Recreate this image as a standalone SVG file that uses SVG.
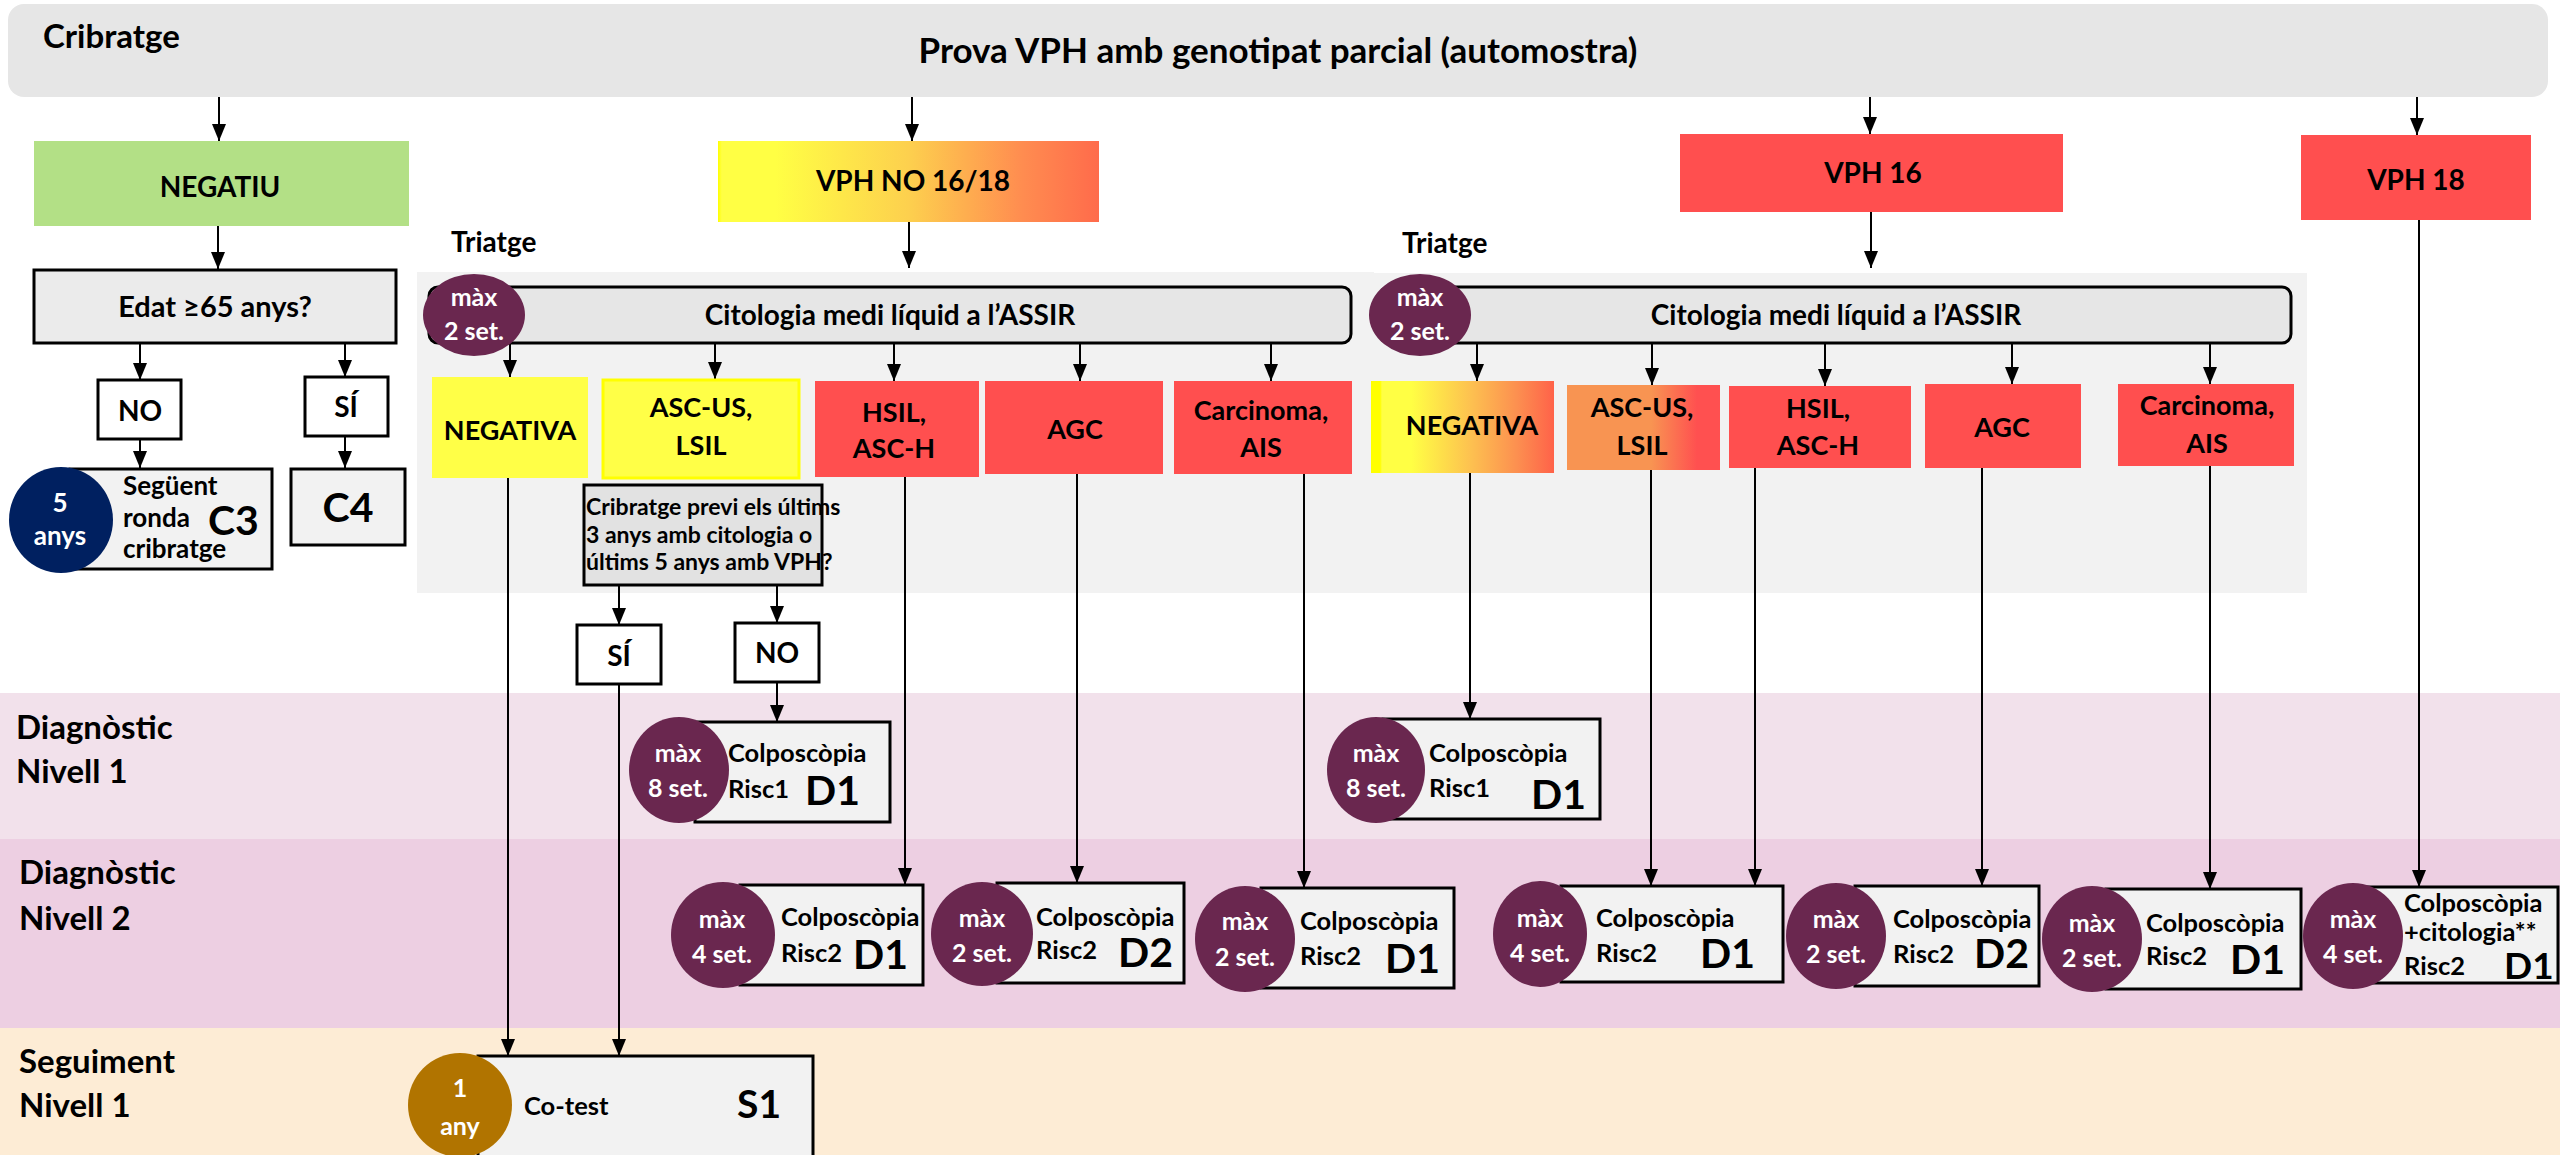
<svg xmlns="http://www.w3.org/2000/svg" width="2560" height="1155" viewBox="0 0 2560 1155">
  <defs>
    <style>
      text { font-family: Lato, "Liberation Sans", sans-serif; font-weight: bold; fill: #000; }
      .c { text-anchor: middle; }
      .w { fill: #fff; }
      .t-title { font-size: 35px; }
      .t-head { font-size: 33px; }
      .t-lane { font-size: 33px; }
      .t-triage { font-size: 28px; }
      .t-top { font-size: 28px; }
      .t-cat { font-size: 27px; }
      .t-cito { font-size: 28px; }
      .t-q { font-size: 23px; }
      .t-big { font-size: 41px; }
      .t-code { font-size: 41px; }
      .t-box { font-size: 25.5px; }
      .t-badge { font-size: 25px; }
      .t-small { font-size: 26px; }
      .frame { stroke: #000; stroke-width: 3; }
      .light { fill: #f2f2f2; }
      .red { fill: #ff4f4f; }
      .yellow { fill: #ffff47; }
      .badge { fill: #6a274f; }
      .conn line { stroke: #000; stroke-width: 2; fill: none; }
      .conn .arrow { marker-end: url(#head); }
    </style>
    <marker id="head" markerUnits="userSpaceOnUse" markerWidth="17" markerHeight="14" refX="17" refY="7" orient="auto">
      <path d="M0,0 L17,7 L0,14 Z" fill="#000"/>
    </marker>
    <linearGradient id="gradNo" x1="0" y1="0" x2="1" y2="0">
      <stop offset="0" stop-color="#ffff00"/>
      <stop offset="0.01" stop-color="#ffff44"/>
      <stop offset="0.15" stop-color="#ffff44"/>
      <stop offset="0.5" stop-color="#fdd04e"/>
      <stop offset="0.8" stop-color="#ff8c50"/>
      <stop offset="1" stop-color="#ff6b4b"/>
    </linearGradient>
    <linearGradient id="gradNeg" x1="0" y1="0" x2="1" y2="0">
      <stop offset="0" stop-color="#ffff00"/>
      <stop offset="0.05" stop-color="#ffff00"/>
      <stop offset="0.06" stop-color="#ffff44"/>
      <stop offset="0.22" stop-color="#ffff44"/>
      <stop offset="0.55" stop-color="#fdc050"/>
      <stop offset="0.8" stop-color="#fc8f50"/>
      <stop offset="1" stop-color="#ff6249"/>
    </linearGradient>
    <linearGradient id="gradAsc" x1="0" y1="0" x2="1" y2="0">
      <stop offset="0" stop-color="#f89452"/>
      <stop offset="0.55" stop-color="#f89452"/>
      <stop offset="0.85" stop-color="#ff5050"/>
      <stop offset="1" stop-color="#ff5050"/>
    </linearGradient>
  </defs>

  <!-- swimlanes -->
  <g id="lanes">
    <rect x="0" y="693" width="2560" height="146" fill="#f2e1eb"/>
    <rect x="0" y="839" width="2560" height="189" fill="#edcfe2"/>
    <rect x="0" y="1028" width="2560" height="127" fill="#fdecd5"/>
    <text class="t-lane" x="16" y="739">Diagnòstic</text>
    <text class="t-lane" x="16" y="783">Nivell 1</text>
    <text class="t-lane" x="19" y="884">Diagnòstic</text>
    <text class="t-lane" x="19" y="930">Nivell 2</text>
    <text class="t-lane" x="19" y="1073">Seguiment</text>
    <text class="t-lane" x="19" y="1117">Nivell 1</text>
  </g>

  <!-- triage panels -->
  <g id="triage-panels">
    <rect x="417" y="272" width="957" height="321" fill="#f2f2f2"/>
    <rect x="1374" y="273" width="933" height="320" fill="#f2f2f2"/>
    <text class="t-triage" x="451" y="252">Triatge</text>
    <text class="t-triage" x="1402" y="253">Triatge</text>
  </g>

  <!-- screening banner -->
  <g id="banner">
    <rect x="8" y="4" width="2540" height="93" rx="16" fill="#e6e6e6"/>
    <text class="t-head" x="43" y="48">Cribratge</text>
    <text class="t-title c" x="1278" y="63">Prova VPH amb genotipat parcial (automostra)</text>
  </g>

  <!-- connectors -->
  <g id="connectors" class="conn">
    <line class="arrow" x1="219" y1="97" x2="219" y2="141"/>
    <line class="arrow" x1="912" y1="97" x2="912" y2="141"/>
    <line class="arrow" x1="1870" y1="97" x2="1870" y2="134"/>
    <line class="arrow" x1="2417" y1="97" x2="2417" y2="135"/>

    <line class="arrow" x1="218" y1="226" x2="218" y2="269"/>
    <line class="arrow" x1="140" y1="343" x2="140" y2="380"/>
    <line class="arrow" x1="345" y1="343" x2="345" y2="377"/>
    <line class="arrow" x1="140" y1="439" x2="140" y2="468"/>
    <line class="arrow" x1="345" y1="436" x2="345" y2="468"/>

    <line class="arrow" x1="909" y1="222" x2="909" y2="268"/>
    <line class="arrow" x1="1871" y1="212" x2="1871" y2="268"/>

    <line class="arrow" x1="510" y1="343" x2="510" y2="377"/>
    <line class="arrow" x1="715" y1="343" x2="715" y2="379"/>
    <line class="arrow" x1="894" y1="343" x2="894" y2="381"/>
    <line class="arrow" x1="1080" y1="343" x2="1080" y2="381"/>
    <line class="arrow" x1="1271" y1="343" x2="1271" y2="381"/>

    <line class="arrow" x1="1477" y1="343" x2="1477" y2="381"/>
    <line class="arrow" x1="1652" y1="343" x2="1652" y2="385"/>
    <line class="arrow" x1="1825" y1="343" x2="1825" y2="386"/>
    <line class="arrow" x1="2012" y1="343" x2="2012" y2="384"/>
    <line class="arrow" x1="2210" y1="343" x2="2210" y2="384"/>

    <line class="arrow" x1="508" y1="478" x2="508" y2="1056"/>
    <line class="arrow" x1="619" y1="585" x2="619" y2="625"/>
    <line class="arrow" x1="777" y1="585" x2="777" y2="623"/>
    <line class="arrow" x1="619" y1="684" x2="619" y2="1056"/>
    <line class="arrow" x1="777" y1="682" x2="777" y2="722"/>
    <line class="arrow" x1="905" y1="477" x2="905" y2="885"/>
    <line class="arrow" x1="1077" y1="474" x2="1077" y2="883"/>
    <line class="arrow" x1="1304" y1="474" x2="1304" y2="888"/>

    <line class="arrow" x1="1470" y1="473" x2="1470" y2="719"/>
    <line class="arrow" x1="1651" y1="470" x2="1651" y2="886"/>
    <line class="arrow" x1="1755" y1="468" x2="1755" y2="886"/>
    <line class="arrow" x1="1982" y1="468" x2="1982" y2="886"/>
    <line class="arrow" x1="2210" y1="466" x2="2210" y2="889"/>
    <line class="arrow" x1="2419" y1="220" x2="2419" y2="887"/>
  </g>

  <!-- screening results -->
  <g id="n-negatiu">
    <rect x="34" y="141" width="375" height="85" fill="#b3e086"/>
    <text class="t-top c" x="220" y="197">NEGATIU</text>
  </g>
  <g id="n-vph-no">
    <rect x="718" y="141" width="381" height="81" fill="url(#gradNo)"/>
    <text class="t-top c" x="913" y="191">VPH NO 16/18</text>
  </g>
  <g id="n-vph16">
    <rect x="1680" y="134" width="383" height="78" class="red"/>
    <text class="t-top c" x="1873" y="183">VPH 16</text>
  </g>
  <g id="n-vph18">
    <rect x="2301" y="135" width="230" height="85" class="red"/>
    <text class="t-top c" x="2416" y="190">VPH 18</text>
  </g>

  <!-- age branch -->
  <g id="n-edat">
    <rect x="34" y="270" width="362" height="73" fill="#ebebeb" class="frame"/>
    <text class="t-top c" x="215" y="317" style="font-size:29px">Edat ≥65 anys?</text>
  </g>
  <g id="n-edat-no">
    <rect x="98" y="380" width="83" height="59" fill="#fff" class="frame"/>
    <text class="t-top c" x="140" y="421">NO</text>
  </g>
  <g id="n-edat-si">
    <rect x="305" y="377" width="83" height="59" fill="#fff" class="frame"/>
    <text class="t-top c" x="346" y="417">SÍ</text>
  </g>
  <g id="n-c3">
    <rect x="70" y="469" width="202" height="100" class="light frame"/>
    <ellipse cx="61" cy="520" rx="52" ry="53" fill="#002060"/>
    <text class="t-small c w" x="60" y="512">5</text>
    <text class="t-small c w" x="60" y="545">anys</text>
    <text class="t-small" x="123" y="495">Següent</text>
    <text class="t-small" x="123" y="527">ronda</text>
    <text class="t-small" x="123" y="558">cribratge</text>
    <text class="t-big" x="208" y="535">C3</text>
  </g>
  <g id="n-c4">
    <rect x="291" y="469" width="114" height="76" class="light frame"/>
    <text class="t-big c" x="348" y="522">C4</text>
  </g>

  <!-- cytology triage, VPH no 16/18 -->
  <g id="n-cito-a">
    <rect x="429" y="287" width="922" height="56" rx="9" fill="#e6e6e6" class="frame"/>
    <ellipse cx="474" cy="315" rx="51" ry="41" class="badge"/>
    <text class="t-badge c w" x="474" y="306">màx</text>
    <text class="t-badge c w" x="474" y="340">2 set.</text>
    <text class="t-cito c" x="890" y="325">Citologia medi líquid a l’ASSIR</text>
  </g>
  <g id="n-neg-a">
    <rect x="432" y="377" width="156" height="101" class="yellow"/>
    <text class="t-cat c" x="510" y="440">NEGATIVA</text>
  </g>
  <g id="n-asc-a">
    <rect x="603" y="380" width="196" height="98" class="yellow" stroke="#ffff00" stroke-width="3"/>
    <text class="t-cat c" x="701" y="417">ASC-US,</text>
    <text class="t-cat c" x="701" y="455">LSIL</text>
  </g>
  <g id="n-hsil-a">
    <rect x="815" y="381" width="164" height="96" class="red"/>
    <text class="t-cat c" x="894" y="422">HSIL,</text>
    <text class="t-cat c" x="894" y="458">ASC-H</text>
  </g>
  <g id="n-agc-a">
    <rect x="985" y="381" width="178" height="93" class="red"/>
    <text class="t-cat c" x="1075" y="439">AGC</text>
  </g>
  <g id="n-carc-a">
    <rect x="1174" y="381" width="178" height="93" class="red"/>
    <text class="t-cat c" x="1261" y="420">Carcinoma,</text>
    <text class="t-cat c" x="1261" y="457">AIS</text>
  </g>
  <g id="n-previ">
    <rect x="584" y="485" width="238" height="100" fill="#e2e2e2" class="frame"/>
    <text class="t-q" x="586" y="515">Cribratge previ els últims</text>
    <text class="t-q" x="586" y="543">3 anys amb citologia o</text>
    <text class="t-q" x="586" y="570">últims 5 anys amb VPH?</text>
  </g>
  <g id="n-previ-si">
    <rect x="577" y="625" width="84" height="59" fill="#fff" class="frame"/>
    <text class="t-top c" x="619" y="666">SÍ</text>
  </g>
  <g id="n-previ-no">
    <rect x="735" y="623" width="84" height="59" fill="#fff" class="frame"/>
    <text class="t-top c" x="777" y="663">NO</text>
  </g>

  <!-- cytology triage, VPH 16 -->
  <g id="n-cito-b">
    <rect x="1380" y="287" width="911" height="56" rx="9" fill="#e6e6e6" class="frame"/>
    <ellipse cx="1420" cy="315" rx="51" ry="41" class="badge"/>
    <text class="t-badge c w" x="1420" y="306">màx</text>
    <text class="t-badge c w" x="1420" y="340">2 set.</text>
    <text class="t-cito c" x="1836" y="325">Citologia medi líquid a l’ASSIR</text>
  </g>
  <g id="n-neg-b">
    <rect x="1371" y="381" width="183" height="92" fill="url(#gradNeg)"/>
    <text class="t-cat c" x="1472" y="435">NEGATIVA</text>
  </g>
  <g id="n-asc-b">
    <rect x="1567" y="385" width="153" height="85" fill="url(#gradAsc)"/>
    <text class="t-cat c" x="1642" y="417">ASC-US,</text>
    <text class="t-cat c" x="1642" y="455">LSIL</text>
  </g>
  <g id="n-hsil-b">
    <rect x="1729" y="386" width="182" height="82" class="red"/>
    <text class="t-cat c" x="1818" y="418">HSIL,</text>
    <text class="t-cat c" x="1818" y="455">ASC-H</text>
  </g>
  <g id="n-agc-b">
    <rect x="1925" y="384" width="156" height="84" class="red"/>
    <text class="t-cat c" x="2002" y="437">AGC</text>
  </g>
  <g id="n-carc-b">
    <rect x="2118" y="384" width="176" height="82" class="red"/>
    <text class="t-cat c" x="2207" y="415">Carcinoma,</text>
    <text class="t-cat c" x="2207" y="453">AIS</text>
  </g>

  <!-- diagnostic level 1 -->
  <g id="n-d1-risc1-a">
    <rect x="695" y="722" width="195" height="100" class="light frame"/>
    <ellipse cx="679" cy="770" rx="50" ry="53" class="badge"/>
    <text class="t-badge c w" x="678" y="762">màx</text>
    <text class="t-badge c w" x="678" y="797">8 set.</text>
    <text class="t-box" x="728" y="762">Colposcòpia</text>
    <text class="t-box" x="728" y="798">Risc1</text>
    <text class="t-code" x="805" y="805">D1</text>
  </g>
  <g id="n-d1-risc1-b">
    <rect x="1383" y="719" width="217" height="100" class="light frame"/>
    <ellipse cx="1376" cy="770" rx="49" ry="53" class="badge"/>
    <text class="t-badge c w" x="1376" y="762">màx</text>
    <text class="t-badge c w" x="1376" y="797">8 set.</text>
    <text class="t-box" x="1429" y="762">Colposcòpia</text>
    <text class="t-box" x="1429" y="797">Risc1</text>
    <text class="t-code" x="1531" y="809">D1</text>
  </g>

  <!-- diagnostic level 2 -->
  <g id="n-d2-hsil-a">
    <rect x="740" y="885" width="183" height="100" class="light frame"/>
    <ellipse cx="723" cy="935" rx="52" ry="53" class="badge"/>
    <text class="t-badge c w" x="722" y="928">màx</text>
    <text class="t-badge c w" x="722" y="963">4 set.</text>
    <text class="t-box" x="781" y="926">Colposcòpia</text>
    <text class="t-box" x="781" y="962">Risc2</text>
    <text class="t-code" x="853" y="969">D1</text>
  </g>
  <g id="n-d2-agc-a">
    <rect x="997" y="883" width="187" height="100" class="light frame"/>
    <ellipse cx="982" cy="934" rx="51" ry="52" class="badge"/>
    <text class="t-badge c w" x="982" y="927">màx</text>
    <text class="t-badge c w" x="982" y="962">2 set.</text>
    <text class="t-box" x="1036" y="926">Colposcòpia</text>
    <text class="t-box" x="1036" y="959">Risc2</text>
    <text class="t-code" x="1118" y="967">D2</text>
  </g>
  <g id="n-d2-carc-a">
    <rect x="1261" y="888" width="193" height="100" class="light frame"/>
    <ellipse cx="1245" cy="939" rx="50" ry="53" class="badge"/>
    <text class="t-badge c w" x="1245" y="930">màx</text>
    <text class="t-badge c w" x="1245" y="966">2 set.</text>
    <text class="t-box" x="1300" y="930">Colposcòpia</text>
    <text class="t-box" x="1300" y="965">Risc2</text>
    <text class="t-code" x="1385" y="973">D1</text>
  </g>
  <g id="n-d2-hsil-b">
    <rect x="1561" y="886" width="222" height="96" class="light frame"/>
    <ellipse cx="1540" cy="934" rx="47" ry="53" class="badge"/>
    <text class="t-badge c w" x="1540" y="927">màx</text>
    <text class="t-badge c w" x="1540" y="962">4 set.</text>
    <text class="t-box" x="1596" y="927">Colposcòpia</text>
    <text class="t-box" x="1596" y="962">Risc2</text>
    <text class="t-code" x="1700" y="968">D1</text>
  </g>
  <g id="n-d2-agc-b">
    <rect x="1855" y="886" width="184" height="100" class="light frame"/>
    <ellipse cx="1836" cy="936" rx="50" ry="53" class="badge"/>
    <text class="t-badge c w" x="1836" y="928">màx</text>
    <text class="t-badge c w" x="1836" y="963">2 set.</text>
    <text class="t-box" x="1893" y="928">Colposcòpia</text>
    <text class="t-box" x="1893" y="963">Risc2</text>
    <text class="t-code" x="1974" y="968">D2</text>
  </g>
  <g id="n-d2-carc-b">
    <rect x="2106" y="889" width="195" height="100" class="light frame"/>
    <ellipse cx="2092" cy="939" rx="50" ry="53" class="badge"/>
    <text class="t-badge c w" x="2092" y="932">màx</text>
    <text class="t-badge c w" x="2092" y="967">2 set.</text>
    <text class="t-box" x="2146" y="932">Colposcòpia</text>
    <text class="t-box" x="2146" y="965">Risc2</text>
    <text class="t-code" x="2230" y="974">D1</text>
  </g>
  <g id="n-d2-vph18">
    <rect x="2367" y="887" width="191" height="96" class="light frame"/>
    <ellipse cx="2353" cy="936" rx="50" ry="53" class="badge"/>
    <text class="t-badge c w" x="2353" y="928">màx</text>
    <text class="t-badge c w" x="2353" y="963">4 set.</text>
    <text class="t-box" x="2404" y="912">Colposcòpia</text>
    <text class="t-box" x="2404" y="941">+citologia**</text>
    <text class="t-box" x="2404" y="975">Risc2</text>
    <text class="t-code" x="2504" y="979" style="font-size:37px">D1</text>
  </g>

  <!-- follow-up -->
  <g id="n-s1">
    <rect x="478" y="1056" width="335" height="104" class="light frame"/>
    <ellipse cx="460" cy="1105" rx="52" ry="52" fill="#b17400"/>
    <text class="t-badge c w" x="460" y="1097">1</text>
    <text class="t-badge c w" x="460" y="1135">any</text>
    <text class="t-box" x="524" y="1115">Co-test</text>
    <text class="t-big" x="737" y="1118" style="font-size:39px">S1</text>
  </g>
</svg>
